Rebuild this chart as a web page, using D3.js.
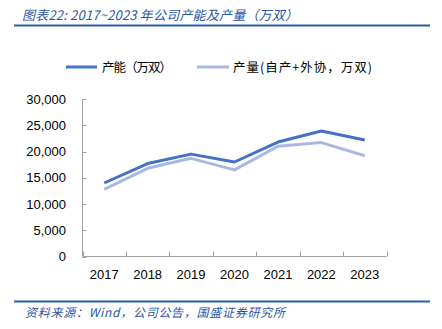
<!DOCTYPE html>
<html><head><meta charset="utf-8">
<script src="https://cdn.jsdelivr.net/npm/d3@7"></script>
<style>body{margin:0;background:#fff}svg{display:block}</style>
</head><body>
<svg id="c" width="442" height="329"></svg>
<script>
const years = ["2017","2018","2019","2020","2021","2022","2023"];
const capacity = [14000,17700,19500,18000,21800,23900,22200];
const production = [12800,16800,18700,16500,21000,21700,19200];
const yTicks = [0,5000,10000,15000,20000,25000,30000];
const titleText = "图表22:  2017~2023 年公司产能及产量（万双）";
const sourceText = "资料来源：Wind，公司公告，国盛证券研究所";
const seriesNames = ["产能（万双）","产量(自产+外协，万双)"];

const svg = d3.select("#c");
const cjk = "'Noto Sans CJK SC', sans-serif";
const blue = "#2a56a6";

// title
svg.append("text").attr("x",22).attr("y",20).attr("fill",blue)
  .attr("font-family",cjk).attr("font-size",13).attr("font-style","italic")
  .attr("textLength",276).attr("lengthAdjust","spacing")
  .text(titleText);
svg.append("line").attr("x1",14).attr("x2",430).attr("y1",25.5).attr("y2",25.5)
  .attr("stroke","#2b5ca8").attr("stroke-width",2);

// footer
svg.append("line").attr("x1",14).attr("x2",430).attr("y1",301.5).attr("y2",301.5)
  .attr("stroke","#2b5ca8").attr("stroke-width",2);
svg.append("text").attr("x",25).attr("y",317).attr("fill",blue)
  .attr("font-family",cjk).attr("font-size",12).attr("font-style","italic")
  .attr("textLength",260).attr("lengthAdjust","spacing")
  .text(sourceText);

const x = d3.scaleBand().domain(years).range([82.5,386.5]);
const y = d3.scaleLinear().domain([0,30000]).range([256.5,99]);

// axes
const g = svg.append("g");
g.append("line").attr("x1",82.5).attr("x2",82.5).attr("y1",y(30000)).attr("y2",y(0)).attr("stroke","#a0a0a0");
g.append("line").attr("x1",82.5).attr("x2",386.5).attr("y1",y(0)).attr("y2",y(0)).attr("stroke","#a0a0a0");
yTicks.forEach(t=>{
  g.append("line").attr("x1",82.5).attr("x2",86.5).attr("y1",Math.round(y(t))+0.5).attr("y2",Math.round(y(t))+0.5).attr("stroke","#a0a0a0");
  g.append("text").attr("x",66).attr("y",y(t)+4.5).attr("text-anchor","end")
    .attr("font-family","'Liberation Sans', Arial, sans-serif").attr("font-size",13).attr("fill","#000")
    .text(d3.format(",")(t));
});
const bounds = years.map(d=>x(d)).concat([x.range()[1]]);
bounds.forEach(b=>{
  g.append("line").attr("x1",Math.round(b)+0.5).attr("x2",Math.round(b)+0.5).attr("y1",y(0)).attr("y2",y(0)-5).attr("stroke","#a0a0a0");
});
years.forEach(yr=>{
  g.append("text").attr("x",x(yr)+x.bandwidth()/2).attr("y",279).attr("text-anchor","middle")
    .attr("font-family","'Liberation Sans', Arial, sans-serif").attr("font-size",13).attr("fill","#000")
    .text(yr);
});

const line = d3.line().x((d,i)=>x(years[i])+x.bandwidth()/2).y(d=>y(d));
const colors = ["#4472c4","#a9b9e2"];
[production, capacity].forEach((s,k)=>{
  svg.append("path").attr("d",line(s)).attr("fill","none")
    .attr("stroke", k===0?colors[1]:colors[0]).attr("stroke-width",3).attr("stroke-linejoin","round");
});

// legend
const leg = [{x1:66,x2:97,tx:102,len:70},{x1:197,x2:229,tx:233,len:139}];
leg.forEach((l,i)=>{
  svg.append("line").attr("x1",l.x1).attr("x2",l.x2).attr("y1",67).attr("y2",67)
    .attr("stroke",colors[i]).attr("stroke-width",3);
  svg.append("text").attr("x",l.tx).attr("y",71.5).attr("font-family",cjk)
    .attr("font-size",12.5).attr("fill","#000")
    .attr("textLength",l.len).attr("lengthAdjust","spacing").text(seriesNames[i]);
});
</script>
</body></html>
